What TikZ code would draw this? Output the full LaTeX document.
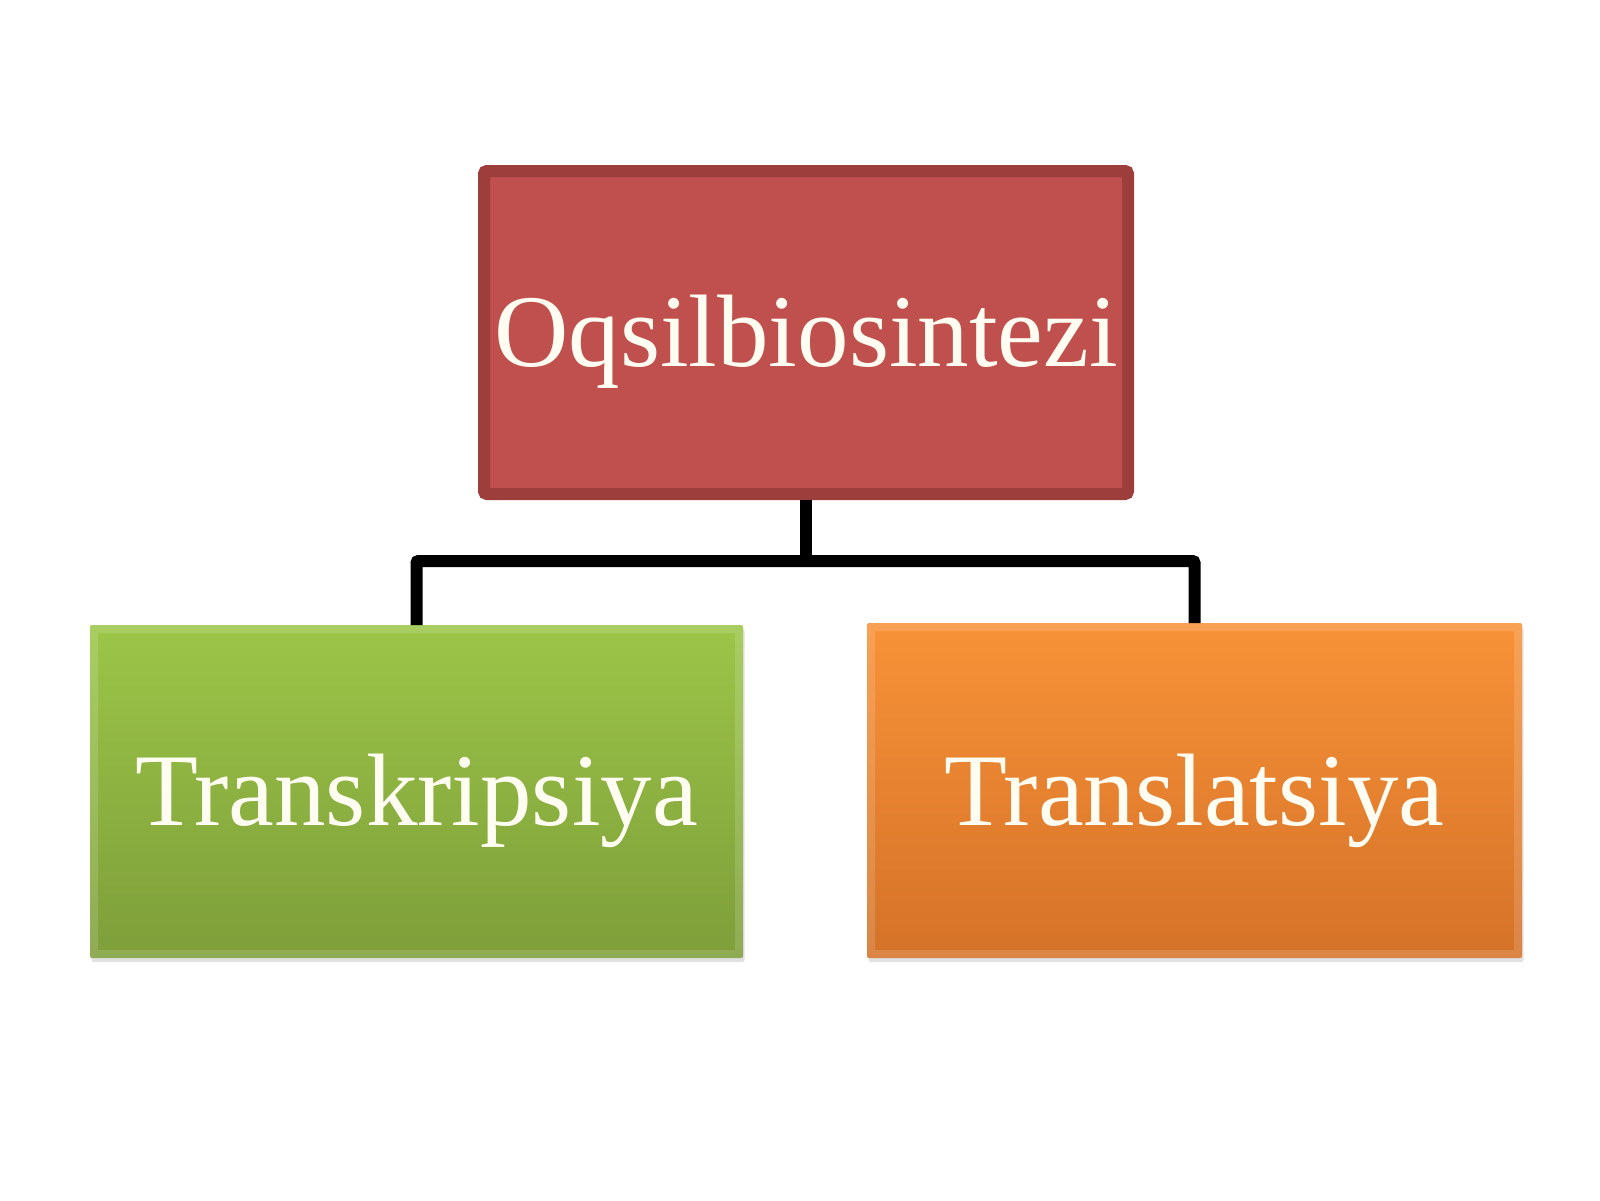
\documentclass[tikz,border=0pt]{standalone}
\usepackage{fontspec}
\setmainfont{Liberation Serif}
\usetikzlibrary{shadows}
\definecolor{redfill}{RGB}{192,80,77}
\definecolor{redline}{RGB}{158,62,60}
\definecolor{greentop}{RGB}{156,197,72}
\definecolor{greenbot}{RGB}{126,158,58}
\definecolor{orangetop}{RGB}{248,146,56}
\definecolor{orangebot}{RGB}{212,114,40}
\definecolor{ivory}{RGB}{255,253,242}
\tikzset{
  topbox/.style={rectangle, inner sep=0pt, fill=redfill, draw=redline, line width=12pt, rounded corners=3pt},
  leafbox/.style={rectangle, inner sep=0pt, outer sep=0pt, draw=white, draw opacity=0.14, line width=16pt, rounded corners=2pt,
    drop shadow={shadow xshift=1.5pt, shadow yshift=-4pt, opacity=0.22, fill=black!60}},
  conn/.style={draw=black, line width=12pt, rounded corners=2pt},
  lbl/.style={anchor=base, inner sep=0pt, text=ivory, font=\fontsize{103}{110}\selectfont}
}
\begin{document}
\begin{tikzpicture}[x=1pt, y=-1pt]
\useasboundingbox[fill=white] (0,0) rectangle (1600,1200);
\node[topbox, minimum width=644pt, minimum height=323pt] (top) at (806,332.5) {};
\node[leafbox, top color=greentop, bottom color=greenbot, minimum width=653pt, minimum height=333pt] (green) at (416.5,791.5) {};
\node[leafbox, top color=orangetop, bottom color=orangebot, minimum width=655pt, minimum height=335pt] (orange) at (1194.5,790.5) {};
\node[lbl] (t1) at (806,366) {Oqsilbiosintezi};
\node[lbl] (t2) at (416.5,825) {Transkripsiya};
\node[lbl] (t3) at (1194.5,825) {Translatsiya};
\coordinate (j) at (806,561);
\draw[conn] (top.south) -- (j);
\draw[conn] (green.north) |- (j) -| (orange.north);
\end{tikzpicture}
\end{document}
